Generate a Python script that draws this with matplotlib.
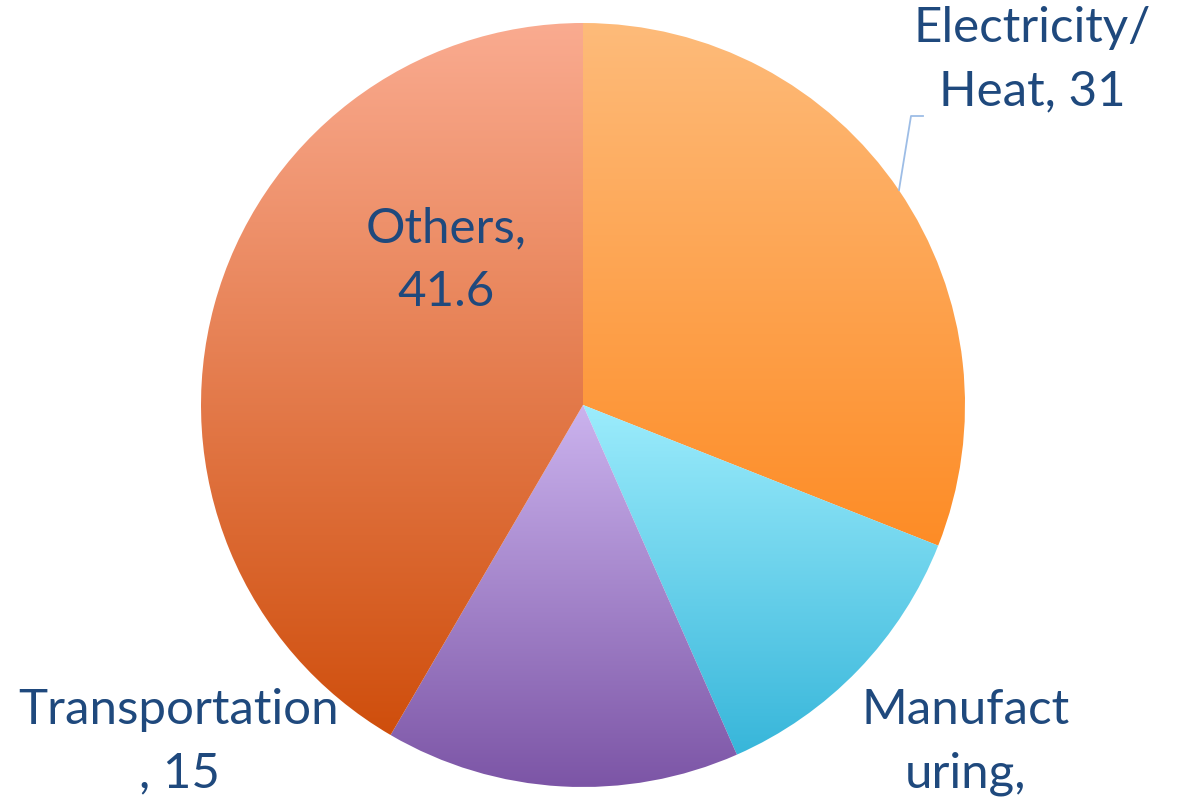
import numpy as np
import matplotlib
matplotlib.use('Agg')
from matplotlib import pyplot as plt
from matplotlib.colors import LinearSegmentedColormap

# CO2 emissions share by sector (%)
sectors = ['Electricity/\nHeat', 'Manufact\nuring', 'Transportation\n', 'Others']
shares = [31, 12.4, 15, 41.6]
# vertical gradient per slice: (top colour, bottom colour)
grads = [('#FDBB7A', '#FE8C26'),
         ('#9CECFC', '#37B6DA'),
         ('#CBB3EE', '#7C55A6'),
         ('#FAAB90', '#CF4E0C')]

W, H = 1178, 800
CX, CY, R = 583, 405, 382  # pie centre / radius in pixels (from top-left)
TXT = '#1F497D'


def px(x, y):
    """pixel position (from top-left) -> data coords of the unit pie"""
    return (x - CX) / R, (CY - y) / R


fig = plt.figure(figsize=(W / 100, H / 100), dpi=100)
ax = fig.add_axes([0, 0, 1, 1])

wedges, _ = ax.pie(shares, startangle=90, counterclock=False, radius=1,
                   wedgeprops=dict(linewidth=0))

# pie() resets the limits, so set them afterwards
ax.set_xlim(-CX / R, (W - CX) / R)
ax.set_ylim(-(H - CY) / R, CY / R)
ax.set_aspect('equal')
ax.axis('off')

ramp = np.linspace(0, 1, 256).reshape(-1, 1)
for w, (top, bot) in zip(wedges, grads):
    w.set_facecolor('none')
    ext = w.get_path().get_extents()
    cmap = LinearSegmentedColormap.from_list('g', [top, bot])
    im = ax.imshow(ramp, cmap=cmap, aspect='auto', origin='upper',
                   extent=[ext.x0, ext.x1, ext.y0, ext.y1],
                   interpolation='bilinear', zorder=1)
    im.set_clip_path(w)

fs = 35.5
kw = dict(color=TXT, fontsize=fs, family=['Lato', 'DejaVu Sans'],
          ha='center', va='top', linespacing=1.55, zorder=5)

lab = ['{}, {:g}'.format(s, v) for s, v in zip(sectors, shares)]
ax.text(*px(1032, 6), lab[0], **kw)
ax.text(*px(966, 688), 'Manufact\nuring,\n{:g}'.format(shares[1]), **kw)
ax.text(*px(179, 688), 'Transportation\n, {:g}'.format(shares[2]), **kw)
ax.text(*px(446, 206), 'Others,\n{:g}'.format(shares[3]), **kw)

# leader line for the electricity label
lx, ly = zip(px(899, 190), px(911, 116), px(923, 116))
ax.plot(lx, ly, color='#9DBDE6', lw=1.3, zorder=4)

fig.savefig('out.png', dpi=100)
